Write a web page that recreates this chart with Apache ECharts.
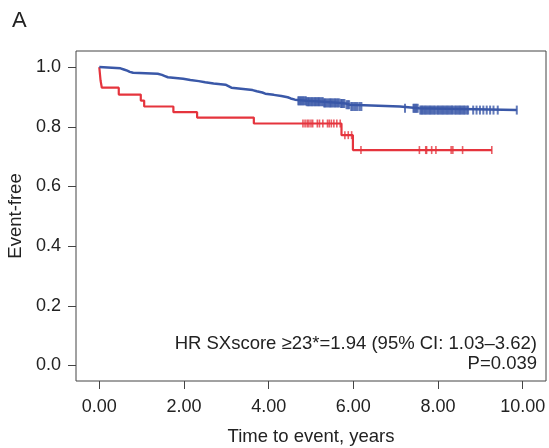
<!DOCTYPE html>
<html>
<head>
<meta charset="utf-8">
<script src="https://cdn.jsdelivr.net/npm/echarts@6/dist/echarts.min.js"></script>
<style>
html, body { margin: 0; padding: 0; background: #fff; }
#main { width: 549px; height: 448px; }
</style>
</head>
<body>
<div id="main"></div>
<script>
var xTicks = [0, 2, 4, 6, 8, 10];
var yTicks = [0, 0.2, 0.4, 0.6, 0.8, 1.0];

// SXscore < 23 (blue)
var lowTime = [0, 0.03, 0.50, 0.58, 0.66, 0.72, 0.80, 1.38, 1.48, 1.55, 1.62, 1.98, 2.15, 2.35, 2.50, 2.70, 2.98, 3.05, 3.12, 3.40, 3.62, 3.72, 3.85, 3.92, 4.12, 4.30, 4.45, 4.52, 4.62, 4.90, 5.30, 5.70, 5.82, 5.92, 7.10, 7.55, 9.86];
var lowSurv = [1.0, 0.996, 0.992, 0.988, 0.984, 0.981, 0.978, 0.974, 0.970, 0.966, 0.961, 0.957, 0.953, 0.949, 0.945, 0.941, 0.936, 0.931, 0.927, 0.923, 0.919, 0.915, 0.911, 0.907, 0.903, 0.899, 0.895, 0.891, 0.887, 0.884, 0.880, 0.878, 0.874, 0.868, 0.862, 0.856, 0.856];
var lowCensor = [4.70, 4.72, 4.75, 4.77, 4.80, 4.82, 4.85, 4.88, 4.90, 4.93, 4.95, 4.98, 5.01, 5.03, 5.06, 5.09, 5.11, 5.14, 5.17, 5.19, 5.22, 5.25, 5.28, 5.31, 5.33, 5.36, 5.39, 5.42, 5.45, 5.47, 5.50, 5.53, 5.56, 5.58, 5.61, 5.64, 5.67, 5.71, 5.73, 5.76, 5.79, 5.84, 5.87, 5.90, 5.95, 5.98, 6.02, 6.06, 6.10, 6.15, 6.19,
  7.22, 7.42, 7.44, 7.47, 7.49, 7.52, 7.58, 7.61, 7.63, 7.66, 7.69, 7.72, 7.75, 7.78, 7.81, 7.84, 7.87, 7.90, 7.93, 7.97, 8.00, 8.03, 8.06, 8.09, 8.12, 8.15, 8.18, 8.21, 8.24, 8.27, 8.30, 8.33, 8.36, 8.40, 8.43, 8.46, 8.49, 8.52, 8.55, 8.58, 8.61, 8.64, 8.68, 8.71,
  8.83, 8.91, 8.99, 9.07, 9.15, 9.23, 9.31, 9.41, 9.86];

// SXscore >= 23 (red)
var highTime = [0, 0.03, 0.06, 0.46, 0.98, 1.06, 1.75, 2.31, 3.65, 5.72, 5.99, 9.27];
var highSurv = [1.0, 0.955, 0.931, 0.908, 0.888, 0.868, 0.849, 0.831, 0.811, 0.772, 0.722, 0.722];
var highCensor = [4.81, 4.86, 4.91, 4.95, 5.00, 5.04, 5.15, 5.20, 5.28, 5.39, 5.43, 5.48, 5.54, 5.61, 5.69, 5.80, 5.88, 5.96, 6.18, 7.56, 7.71, 7.73, 7.85, 7.95, 8.31, 8.35, 8.58, 9.27];

var blue = '#3a58a8';
var red = '#e5343d';
var font = 'Liberation Sans, Arial, Helvetica, sans-serif';

function pairs(t, s) {
  return t.map(function (v, i) { return [v, s[i]]; });
}
// survival value at time x (step function)
function survAt(t, s, x) {
  var v = s[0];
  for (var i = 0; i < t.length; i++) {
    if (t[i] <= x) v = s[i];
  }
  return v;
}
function censorPts(c, t, s) {
  return c.map(function (x) { return [x, survAt(t, s, x)]; });
}

var chart = echarts.init(document.getElementById('main'));
var option = {
  animation: false,
  textStyle: { fontFamily: font },
  grid: {
    left: 76, top: 51, right: 3, bottom: 67,
    outerBoundsMode: 'none',
    show: true, borderColor: '#444', borderWidth: 1
  },
  xAxis: {
    type: 'value',
    min: -0.55,
    max: 10.55,
    name: 'Time to event, years',
    nameLocation: 'middle',
    nameGap: 46,
    nameTextStyle: { color: '#222', fontSize: 18.5 },
    axisLine: { show: false, onZero: false },
    splitLine: { show: false },
    axisTick: { show: true, length: 8, customValues: xTicks, lineStyle: { color: '#444' } },
    axisLabel: {
      customValues: xTicks, margin: 17, color: '#222', fontSize: 18,
      formatter: function (v) { return v.toFixed(2); }
    }
  },
  yAxis: {
    type: 'value',
    min: -0.052,
    max: 1.054,
    name: 'Event-free',
    nameLocation: 'middle',
    nameGap: 50,
    nameTextStyle: { color: '#222', fontSize: 18.5 },
    axisLine: { show: false, onZero: false },
    splitLine: { show: false },
    axisTick: { show: true, length: 8, customValues: yTicks, lineStyle: { color: '#444' } },
    axisLabel: {
      customValues: yTicks, margin: 15, color: '#222', fontSize: 18,
      formatter: function (v) { return v.toFixed(1); }
    }
  },
  graphic: [
    { type: 'text', left: 12, top: 10, style: { text: 'A', fontSize: 22, fill: '#222', fontFamily: font } },
    { type: 'text', x: 537, y: 344, style: { text: 'HR SXscore \u226523*=1.94 (95% CI: 1.03\u20133.62)', fontSize: 18.5, fill: '#222', fontFamily: font, textAlign: 'right', textVerticalAlign: 'middle' } },
    { type: 'text', x: 537, y: 364, style: { text: 'P=0.039', fontSize: 18.5, fill: '#222', fontFamily: font, textAlign: 'right', textVerticalAlign: 'middle' } }
  ],
  series: [
    {
      name: 'SXscore <23', type: 'line', step: 'end', showSymbol: false,
      lineStyle: { color: blue, width: 2.5 }, data: pairs(lowTime, lowSurv), z: 3
    },
    {
      name: 'SXscore \u226523', type: 'line', step: 'end', showSymbol: false,
      lineStyle: { color: red, width: 2.2 }, data: pairs(highTime, highSurv), z: 2
    },
    {
      type: 'scatter', symbol: 'rect', symbolSize: [2, 9],
      itemStyle: { color: blue }, data: censorPts(lowCensor, lowTime, lowSurv), z: 3
    },
    {
      type: 'scatter', symbol: 'rect', symbolSize: [1.6, 8],
      itemStyle: { color: red }, data: censorPts(highCensor, highTime, highSurv), z: 2
    }
  ]
};
chart.setOption(option);
</script>
</body>
</html>
